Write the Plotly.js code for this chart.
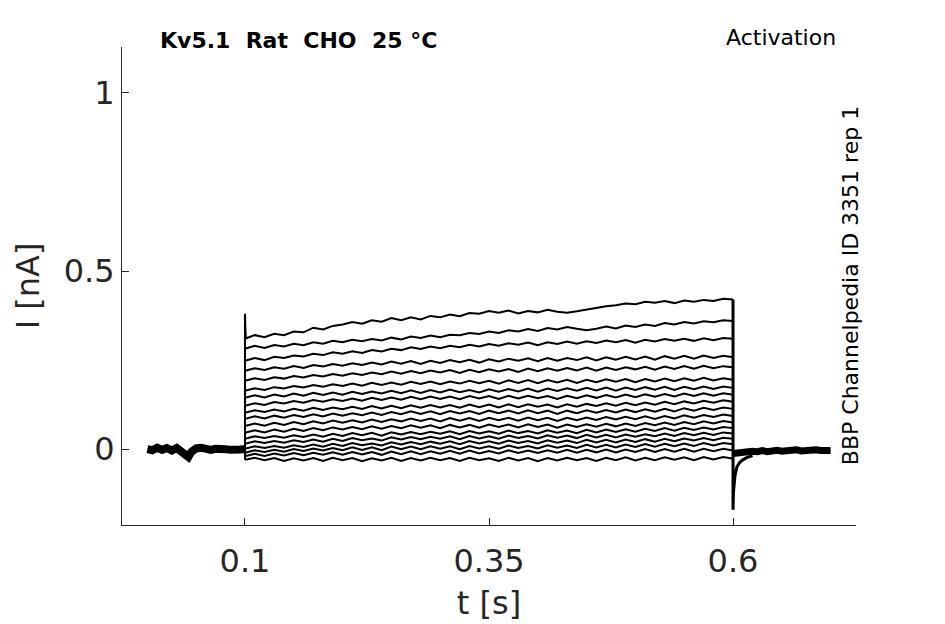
<!DOCTYPE html>
<html>
<head>
<meta charset="utf-8">
<script src="https://cdn.plot.ly/plotly-3.0.1.min.js"></script>
<style>html,body{margin:0;padding:0;background:#fff;}#chart{width:945px;height:624px;}</style>
</head>
<body>
<div id="chart"></div>
<script>
// ---- data ----
var pulseT = [0.10,0.11,0.12,0.13,0.14,0.15,0.16,0.17,0.18,0.19,0.20,0.21,0.22,0.23,0.24,0.25,0.26,0.27,0.28,0.29,0.30,0.31,0.32,0.33,0.34,0.35,0.36,0.37,0.38,0.39,0.40,0.41,0.42,0.43,0.44,0.45,0.46,0.47,0.48,0.49,0.50,0.51,0.52,0.53,0.54,0.55,0.56,0.57,0.58,0.59,0.60];

var sweep1  = [0.310,0.320,0.314,0.324,0.320,0.330,0.328,0.341,0.336,0.346,0.350,0.357,0.352,0.362,0.358,0.368,0.362,0.370,0.364,0.374,0.370,0.378,0.373,0.382,0.380,0.388,0.383,0.389,0.381,0.388,0.384,0.391,0.386,0.383,0.387,0.392,0.397,0.401,0.404,0.409,0.407,0.414,0.411,0.416,0.410,0.417,0.414,0.419,0.416,0.422,0.420];
var sweep2  = [0.282,0.290,0.284,0.292,0.288,0.296,0.292,0.300,0.296,0.304,0.300,0.307,0.303,0.309,0.305,0.313,0.308,0.316,0.312,0.319,0.314,0.321,0.320,0.326,0.323,0.330,0.326,0.334,0.330,0.337,0.332,0.340,0.336,0.343,0.338,0.334,0.338,0.344,0.339,0.347,0.343,0.350,0.346,0.354,0.350,0.357,0.353,0.359,0.356,0.362,0.360];
var sweep3  = [0.248,0.256,0.250,0.259,0.256,0.263,0.260,0.268,0.264,0.272,0.268,0.275,0.270,0.278,0.274,0.282,0.278,0.286,0.281,0.288,0.283,0.290,0.286,0.293,0.288,0.295,0.290,0.297,0.293,0.299,0.292,0.300,0.295,0.302,0.296,0.303,0.298,0.305,0.300,0.306,0.299,0.307,0.302,0.309,0.304,0.310,0.304,0.311,0.306,0.312,0.310];
var sweep4  = [0.220,0.227,0.222,0.230,0.226,0.233,0.228,0.236,0.232,0.239,0.234,0.241,0.236,0.243,0.238,0.246,0.240,0.247,0.239,0.248,0.242,0.250,0.244,0.251,0.243,0.252,0.246,0.254,0.248,0.255,0.247,0.256,0.248,0.256,0.250,0.258,0.249,0.258,0.251,0.259,0.252,0.260,0.251,0.261,0.254,0.262,0.254,0.263,0.256,0.262,0.258];
var sweep5  = [0.192,0.199,0.194,0.202,0.198,0.205,0.201,0.208,0.204,0.211,0.206,0.213,0.208,0.215,0.210,0.218,0.212,0.219,0.213,0.221,0.215,0.222,0.214,0.223,0.216,0.224,0.218,0.225,0.217,0.226,0.219,0.227,0.220,0.228,0.221,0.229,0.220,0.229,0.222,0.230,0.224,0.231,0.223,0.232,0.225,0.233,0.226,0.234,0.227,0.233,0.230];
var sweep6  = [0.164,0.171,0.166,0.174,0.170,0.177,0.173,0.180,0.175,0.182,0.177,0.184,0.178,0.186,0.180,0.187,0.181,0.189,0.183,0.190,0.182,0.190,0.184,0.192,0.185,0.192,0.184,0.193,0.186,0.194,0.185,0.194,0.187,0.195,0.186,0.195,0.188,0.196,0.189,0.197,0.188,0.197,0.190,0.198,0.191,0.199,0.192,0.200,0.193,0.199,0.195];
var sweep7  = [0.144,0.151,0.145,0.153,0.148,0.156,0.150,0.158,0.152,0.159,0.153,0.161,0.155,0.162,0.156,0.164,0.157,0.165,0.158,0.166,0.159,0.167,0.160,0.166,0.159,0.168,0.161,0.169,0.162,0.170,0.161,0.170,0.163,0.171,0.164,0.172,0.165,0.173,0.164,0.173,0.166,0.174,0.167,0.175,0.166,0.175,0.168,0.176,0.169,0.176,0.172];
var sweep8  = [0.122,0.129,0.124,0.132,0.128,0.135,0.130,0.138,0.133,0.140,0.135,0.142,0.136,0.144,0.138,0.145,0.139,0.147,0.140,0.148,0.141,0.148,0.140,0.149,0.142,0.149,0.141,0.150,0.142,0.150,0.143,0.149,0.141,0.150,0.143,0.151,0.144,0.152,0.145,0.153,0.146,0.154,0.147,0.155,0.148,0.156,0.149,0.157,0.150,0.157,0.153];
var sweep9  = [0.102,0.109,0.104,0.111,0.106,0.113,0.108,0.116,0.110,0.117,0.112,0.119,0.113,0.121,0.114,0.122,0.115,0.123,0.116,0.124,0.117,0.124,0.116,0.125,0.118,0.125,0.117,0.126,0.118,0.126,0.119,0.125,0.117,0.126,0.119,0.127,0.121,0.129,0.122,0.130,0.123,0.131,0.125,0.133,0.126,0.134,0.128,0.136,0.130,0.137,0.133];
var sweep10 = [0.085,0.092,0.086,0.094,0.088,0.096,0.090,0.098,0.092,0.100,0.094,0.101,0.095,0.103,0.096,0.104,0.098,0.106,0.099,0.106,0.098,0.107,0.100,0.107,0.099,0.108,0.101,0.108,0.100,0.109,0.101,0.108,0.099,0.108,0.101,0.109,0.102,0.110,0.103,0.111,0.104,0.112,0.105,0.113,0.106,0.115,0.108,0.116,0.110,0.117,0.113];
var sweep11 = [0.065,0.072,0.066,0.074,0.068,0.076,0.070,0.078,0.072,0.080,0.074,0.081,0.075,0.083,0.076,0.084,0.078,0.086,0.079,0.086,0.078,0.087,0.080,0.087,0.079,0.088,0.081,0.088,0.080,0.089,0.081,0.088,0.079,0.088,0.081,0.089,0.082,0.090,0.083,0.091,0.084,0.092,0.085,0.093,0.086,0.095,0.088,0.096,0.090,0.097,0.093];
var sweep12 = [0.046,0.053,0.047,0.055,0.049,0.057,0.051,0.059,0.053,0.061,0.055,0.062,0.056,0.064,0.057,0.065,0.059,0.067,0.060,0.067,0.059,0.068,0.061,0.068,0.060,0.069,0.062,0.069,0.061,0.070,0.062,0.069,0.060,0.069,0.062,0.070,0.063,0.071,0.064,0.072,0.065,0.073,0.067,0.075,0.068,0.076,0.070,0.078,0.072,0.079,0.075];
var sweep13 = [0.029,0.036,0.031,0.037,0.032,0.039,0.034,0.041,0.035,0.043,0.037,0.045,0.039,0.046,0.038,0.047,0.041,0.048,0.042,0.049,0.043,0.050,0.042,0.051,0.044,0.050,0.043,0.052,0.045,0.051,0.044,0.053,0.046,0.052,0.045,0.054,0.047,0.055,0.048,0.056,0.049,0.057,0.051,0.059,0.052,0.060,0.054,0.061,0.055,0.062,0.059];
var sweep14 = [0.015,0.022,0.017,0.023,0.018,0.025,0.020,0.027,0.021,0.029,0.023,0.031,0.025,0.030,0.024,0.033,0.027,0.034,0.028,0.035,0.029,0.036,0.028,0.037,0.030,0.036,0.029,0.038,0.031,0.037,0.030,0.039,0.032,0.038,0.031,0.040,0.033,0.040,0.033,0.041,0.035,0.042,0.036,0.044,0.037,0.045,0.039,0.046,0.040,0.047,0.044];
var sweep15 = [0.001,0.008,0.003,0.009,0.004,0.011,0.006,0.013,0.007,0.015,0.009,0.017,0.011,0.016,0.010,0.019,0.013,0.020,0.014,0.021,0.015,0.022,0.014,0.023,0.016,0.022,0.015,0.024,0.017,0.023,0.016,0.025,0.018,0.024,0.017,0.026,0.019,0.026,0.019,0.027,0.020,0.028,0.021,0.029,0.022,0.030,0.024,0.031,0.025,0.032,0.029];
var sweep16 = [-0.010,-0.003,-0.008,-0.002,-0.007,0.000,-0.005,0.002,-0.004,0.003,-0.003,0.005,-0.002,0.005,-0.003,0.007,0.000,0.007,0.000,0.008,0.001,0.008,0.000,0.009,0.002,0.008,0.001,0.010,0.003,0.009,0.002,0.011,0.004,0.010,0.003,0.012,0.005,0.012,0.005,0.013,0.006,0.014,0.007,0.015,0.008,0.016,0.009,0.017,0.010,0.017,0.014];
var sweep17 = [-0.020,-0.013,-0.019,-0.012,-0.018,-0.011,-0.017,-0.010,-0.016,-0.009,-0.016,-0.008,-0.015,-0.008,-0.016,-0.007,-0.014,-0.006,-0.014,-0.006,-0.013,-0.005,-0.013,-0.004,-0.012,-0.005,-0.012,-0.003,-0.011,-0.004,-0.011,-0.003,-0.010,-0.002,-0.010,-0.002,-0.009,-0.001,-0.009,-0.001,-0.008,0.000,-0.008,0.000,-0.007,0.001,-0.007,0.001,-0.006,0.001,-0.004];
var sweep18 = [-0.030,-0.024,-0.031,-0.025,-0.033,-0.026,-0.032,-0.025,-0.033,-0.024,-0.031,-0.025,-0.034,-0.026,-0.032,-0.024,-0.033,-0.025,-0.032,-0.024,-0.031,-0.025,-0.033,-0.024,-0.031,-0.026,-0.033,-0.024,-0.032,-0.025,-0.034,-0.025,-0.032,-0.024,-0.031,-0.025,-0.033,-0.024,-0.031,-0.023,-0.032,-0.024,-0.031,-0.023,-0.030,-0.023,-0.031,-0.022,-0.029,-0.022,-0.027];

// holding period before the step
var preT = [0.000,0.005,0.010,0.015,0.020,0.025,0.030,0.035,0.040,0.042,0.045,0.050,0.055,0.060,0.065,0.070,0.075,0.080,0.085,0.090,0.095,0.100];
var preI = [0.000,-0.003,0.004,-0.002,0.003,-0.004,0.003,-0.005,-0.016,-0.022,-0.008,0.002,0.004,0.000,-0.002,0.001,-0.002,0.000,-0.002,0.001,-0.001,0.000];

// capacitive transient at step onset
var onT = [0.100,0.100,0.1005,0.101];
var onI = [-0.030,0.380,0.330,0.310];

// step offset and tail
var tailT = [0.600,0.600,0.6005,0.602,0.604,0.607,0.610,0.614,0.620];
var tailI = [0.420,-0.170,-0.120,-0.075,-0.050,-0.037,-0.030,-0.024,-0.018];

// holding period after the step
var postT = [0.600,0.605,0.610,0.615,0.620,0.625,0.630,0.635,0.640,0.645,0.650,0.655,0.660,0.665,0.670,0.675,0.680,0.685,0.690,0.695,0.700];
var postI = [-0.012,-0.010,-0.008,-0.009,-0.006,-0.007,-0.004,-0.007,-0.005,-0.003,-0.006,-0.004,-0.005,-0.002,-0.005,-0.003,-0.005,-0.002,-0.004,-0.003,-0.004];

var xTicks = [0.1, 0.35, 0.6];
var xTickText = ['0.1', '0.35', '0.6'];
var yTicks = [0, 0.5, 1];
var yTickText = ['0', '0.5', '1'];

var titleText = 'Kv5.1  Rat  CHO  25 °C';
var protocolText = 'Activation';
var sourceText = 'BBP Channelpedia ID 3351 rep 1';

// ---- traces ----
var sweeps = [sweep1,sweep2,sweep3,sweep4,sweep5,sweep6,sweep7,sweep8,sweep9,sweep10,sweep11,sweep12,sweep13,sweep14,sweep15,sweep16,sweep17,sweep18];
var data = [];
data.push({x: preT, y: preI, mode: 'lines', line: {color: '#000', width: 8}, hoverinfo: 'skip', showlegend: false});
data.push({x: postT, y: postI, mode: 'lines', line: {color: '#000', width: 7}, hoverinfo: 'skip', showlegend: false});
sweeps.forEach(function (s) {
  data.push({x: pulseT, y: s, mode: 'lines', line: {color: '#000', width: 2}, hoverinfo: 'skip', showlegend: false});
});
data.push({x: onT, y: onI, mode: 'lines', line: {color: '#000', width: 2}, hoverinfo: 'skip', showlegend: false});
data.push({x: tailT, y: tailI, mode: 'lines', line: {color: '#000', width: 3}, hoverinfo: 'skip', showlegend: false});

var axisCol = '#262626';
var layout = {
  width: 945, height: 624,
  margin: {l: 122, r: 89, t: 47, b: 99, pad: 0},
  paper_bgcolor: '#fff', plot_bgcolor: '#fff',
  font: {family: 'DejaVu Sans', color: axisCol},
  showlegend: false,
  xaxis: {
    range: [-0.026, 0.726], tickvals: xTicks, ticktext: xTickText,
    ticks: 'inside', ticklen: 7, tickwidth: 1, tickcolor: axisCol,
    showline: true, linecolor: axisCol, linewidth: 1, mirror: false,
    showgrid: false, zeroline: false, ticklabelstandoff: 8,
    tickfont: {size: 32, color: axisCol, family: 'DejaVu Sans'},
    title: {text: 't [s]', font: {size: 32, color: axisCol, family: 'DejaVu Sans'}, standoff: 12},
    automargin: false
  },
  yaxis: {
    range: [-0.213, 1.129], tickvals: yTicks, ticktext: yTickText,
    ticks: 'inside', ticklen: 7, tickwidth: 1, tickcolor: axisCol,
    showline: true, linecolor: axisCol, linewidth: 1, mirror: false,
    showgrid: false, zeroline: false,
    tickfont: {size: 32, color: axisCol, family: 'DejaVu Sans'},
    title: {text: 'I [nA]', font: {size: 32, color: axisCol, family: 'DejaVu Sans'}, standoff: 14},
    automargin: false
  },
  annotations: [
    {text: '<b>' + titleText + '</b>', xref: 'paper', yref: 'paper', x: 0.049, y: 1.0146,
     xanchor: 'left', yanchor: 'middle', showarrow: false, font: {size: 22, color: '#000', family: 'DejaVu Sans'}},
    {text: protocolText, xref: 'paper', yref: 'paper', x: 0.9755, y: 1.019,
     xanchor: 'right', yanchor: 'middle', showarrow: false, font: {size: 22, color: '#000', family: 'DejaVu Sans'}},
    {text: sourceText, xref: 'paper', yref: 'paper', x: 0.992, y: 0.5, textangle: -90,
     xanchor: 'center', yanchor: 'middle', showarrow: false, font: {size: 22, color: '#000', family: 'DejaVu Sans'}}
  ]
};

Plotly.newPlot('chart', data, layout, {staticPlot: true, displayModeBar: false});
</script>
</body>
</html>
